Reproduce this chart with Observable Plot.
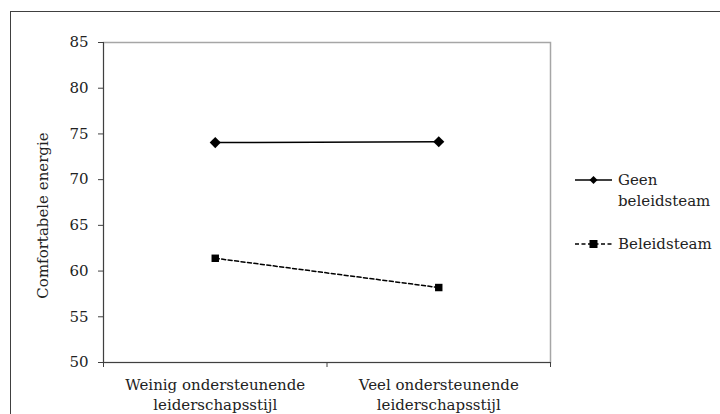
<!DOCTYPE html>
<html>
<head>
<meta charset="utf-8">
<script src="https://cdn.jsdelivr.net/npm/d3@7"></script>
<script src="https://cdn.jsdelivr.net/npm/@observablehq/plot@0.6"></script>
<style>
  html, body { margin: 0; padding: 0; background: #fff; }
  body { width: 720px; height: 414px; position: relative; overflow: hidden; font-family: "DejaVu Serif", serif; }
  #outer { position: absolute; left: 10px; top: 11px; width: 720px; height: 420px; border-top: 1px solid #404040; border-left: 1px solid #404040; box-sizing: border-box; }
  #chart { position: absolute; left: 0; top: 0; }
  #legend { position: absolute; left: 574px; top: 170px; font-family: "DejaVu Serif", serif; font-size: 15px; color: #222; }
  .item { display: flex; align-items: flex-start; line-height: 21px; margin-bottom: 22px; }
  .item svg { flex: none; margin-top: 3px; margin-right: 4px; }
</style>
</head>
<body>
<div id="outer"></div>
<div id="chart"></div>
<div id="legend"></div>
<script>
const categories = ["Weinig ondersteunende\nleiderschapsstijl", "Veel ondersteunende\nleiderschapsstijl"];
const seriesNames = ["Geen beleidsteam", "Beleidsteam"];
const geenValues = [74.05, 74.15];
const beleidValues = [61.4, 58.2];
const yTicks = [50, 55, 60, 65, 70, 75, 80, 85];
const xTicks = [0, 1, 2];

const rows = [
  ...categories.map((c, i) => ({pos: i + 0.5, cat: c, value: geenValues[i], series: seriesNames[0]})),
  ...categories.map((c, i) => ({pos: i + 0.5, cat: c, value: beleidValues[i], series: seriesNames[1]}))
];
const geen = rows.filter(d => d.series === seriesNames[0]);
const beleid = rows.filter(d => d.series === seriesNames[1]);

const chart = Plot.plot({
  width: 720,
  height: 414,
  marginLeft: 103,
  marginRight: 170,
  marginTop: 42,
  marginBottom: 52,
  style: {fontFamily: "DejaVu Serif, serif", fontSize: "15px", color: "#222", background: "transparent"},
  x: {domain: [0, categories.length], axis: null},
  y: {domain: [50, 85], axis: null},
  marks: [
    Plot.frame({stroke: "#a6a6a6", strokeWidth: 1.5}),
    Plot.axisY({ticks: yTicks, tickSize: 5, tickPadding: 10, stroke: "#404040", fill: "#222", fontSize: 15, label: null}),
    Plot.axisX({ticks: xTicks, tickSize: 5, tickFormat: () => "", stroke: "#404040", label: null}),
    Plot.ruleX([0], {stroke: "#404040", strokeWidth: 1}),
    Plot.ruleY([50], {stroke: "#404040", strokeWidth: 1}),
    Plot.text(categories.map((c, i) => ({c, pos: i + 0.5})), {
      x: "pos", y: () => 50, text: "c", lineAnchor: "top", dy: 13, lineHeight: 1.33, fontSize: 15, fill: "#222"
    }),
    Plot.text(["Comfortabele energie"], {
      text: d => d, frameAnchor: "left", textAnchor: "middle", lineAnchor: "middle", rotate: -90, dx: -60, dy: 13, fontSize: 15, fill: "#222"
    }),
    Plot.line(geen, {x: "pos", y: "value", stroke: "#000", strokeWidth: 1.5}),
    Plot.line(beleid, {x: "pos", y: "value", stroke: "#000", strokeWidth: 1.5, strokeDasharray: "4,2.5"}),
    Plot.dot(geen, {x: "pos", y: "value", symbol: "diamond2", r: 5, fill: "#000", stroke: "none"}),
    Plot.dot(beleid, {x: "pos", y: "value", symbol: "square", r: 4.2, fill: "#000", stroke: "none"})
  ]
});
document.getElementById("chart").appendChild(chart);

// Legend
const legend = d3.select("#legend");
const styles = [
  {dash: null, sym: "diamond"},
  {dash: "4,2.5", sym: "square"}
];
seriesNames.forEach((name, i) => {
  const item = legend.append("div").attr("class", "item");
  const svg = item.append("svg").attr("width", 40).attr("height", 14);
  svg.append("line").attr("x1", 1).attr("x2", 38).attr("y1", 7).attr("y2", 7)
    .attr("stroke", "#000").attr("stroke-width", 1.5)
    .attr("stroke-dasharray", styles[i].dash);
  if (styles[i].sym === "diamond") {
    svg.append("path").attr("d", "M19.5,3 L23.5,7 L19.5,11 L15.5,7 Z").attr("fill", "#000");
  } else {
    svg.append("rect").attr("x", 15.5).attr("y", 3).attr("width", 8).attr("height", 8).attr("fill", "#000");
  }
  const label = i === 0 ? "Geen<br>beleidsteam" : name;
  item.append("div").html(label);
});
</script>
</body>
</html>
